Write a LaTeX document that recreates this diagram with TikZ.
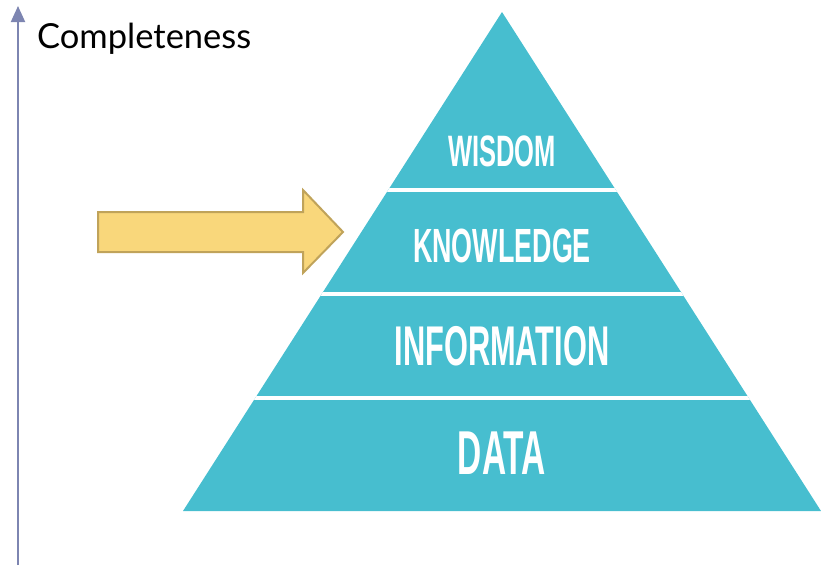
\documentclass[tikz,border=0pt]{standalone}
\usepackage{fontspec}
\setmainfont{Lato}
\newfontfamily\bandfont{Liberation Sans}
\usetikzlibrary{arrows.meta}
\definecolor{pyramidblue}{HTML}{47BECF}
\definecolor{axisblue}{HTML}{7D85B1}
\definecolor{arrowfill}{HTML}{F9D77B}
\definecolor{arrowedge}{HTML}{C0A35A}
\newcommand{\bandlabel}[3]{\scalebox{#2}[1]{\fontsize{#1}{#1}\selectfont\bfseries #3}}

\begin{document}
\begin{tikzpicture}
[x=1pt,y=-1pt,%
  gap/.style={draw=white,line width=4pt},%
  bandtext/.style={text=white,inner sep=0pt,font=\bandfont}]
\useasboundingbox (0,0) rectangle (821,565);
% axis
\coordinate (axisbot) at (18,565);
\coordinate (axistop) at (18,6);
\draw[axisblue,line width=2pt,-{Triangle[length=16pt,width=14pt]}] (axisbot) -- (axistop);
\node[anchor=base west,inner sep=0pt,font=\fontsize{34.5}{34.5}\selectfont] (compl) at (37,48) {Completeness};
% pyramid
\coordinate (apex) at (502,12);
\coordinate (baseL) at (183,511);
\coordinate (baseR) at (821,511);
\fill[pyramidblue] (apex) -- (baseR) -- (baseL) -- cycle;
\begin{scope}
\clip (apex) -- (baseR) -- (baseL) -- cycle;
\foreach \y in {190,294,398}
  \draw[gap] (150,\y) -- (821,\y);
\end{scope}
\node[bandtext] (wisdom) at (502,151) {\bandlabel{44}{0.58}{WISDOM}};
\node[bandtext] (knowledge) at (502,246) {\bandlabel{48}{0.56}{KNOWLEDGE}};
\node[bandtext] (information) at (502,346) {\bandlabel{56}{0.55}{INFORMATION}};
\node[bandtext] (data) at (502,453) {\bandlabel{62}{0.54}{DATA}};
% pointer
\draw[arrowedge,fill=arrowfill,line width=2pt,line join=miter]
  (98,212) -- (303,212) -- (303,190) -- (343,232) -- (303,273) -- (303,252) -- (98,252) -- cycle;
\end{tikzpicture}
\end{document}
